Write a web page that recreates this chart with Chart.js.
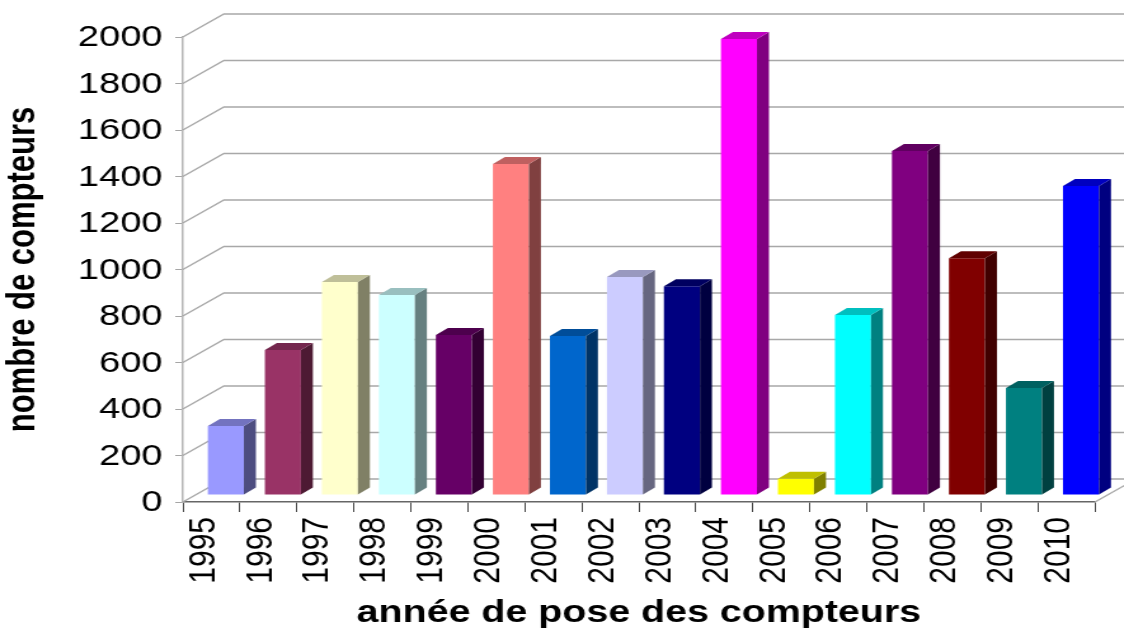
<!DOCTYPE html>
<html>
<head>
<meta charset="utf-8">
<style>
html, body { margin: 0; padding: 0; background: #fff; overflow: hidden; }
/* the reference is a 3D Excel chart stretched sideways, text included */
#wrap { width: 885px; height: 628px; transform: scale(1.27, 1); transform-origin: 0 0; }
</style>
<script src="https://cdn.jsdelivr.net/npm/chart.js@4"></script>
</head>
<body>
<div id="wrap"><canvas id="compteurs" width="885" height="628"></canvas></div>
<script>
const years = ['1995', '1996', '1997', '1998', '1999', '2000', '2001', '2002', '2003', '2004', '2005', '2006', '2007', '2008', '2009', '2010'];
const counts = [297, 624, 916, 860, 688, 1424, 684, 938, 898, 1961, 70, 774, 1480, 1018, 460, 1329];
const barColors = ['#9999FF', '#993366', '#FFFFCC', '#CCFFFF', '#660066', '#FF8080', '#0066CC', '#CCCCFF', '#000080', '#FF00FF', '#FFFF00', '#00FFFF', '#800080', '#800000', '#008080', '#0000FF'];

const wall = { dx: 32.3, dy: -23 };
const barShift = { dx: 11.4, dy: -7 };
const barDepth = { dx: 9.45, dy: -7 };

function shade(hex, f) {
    const n = parseInt(hex.slice(1), 16);
    return `rgb(${(n >> 16) * f}, ${((n >> 8) & 255) * f}, ${(n & 255) * f})`;
}

const box3d = {
    id: 'box3d',
    beforeDatasetsDraw(chart) {
        const ctx = chart.ctx;
        const { left, right, bottom } = chart.chartArea;
        ctx.save();
        ctx.strokeStyle = '#a8a8a8';
        ctx.lineWidth = 1.4;
        chart.scales.y.ticks.forEach(t => {
            const y = chart.scales.y.getPixelForValue(t.value);
            ctx.beginPath();
            ctx.moveTo(left, y);
            ctx.lineTo(left + wall.dx, y + wall.dy);
            ctx.lineTo(right + wall.dx, y + wall.dy);
            ctx.stroke();
        });
        ctx.beginPath();
        ctx.moveTo(right, bottom);
        ctx.lineTo(right + wall.dx, bottom + wall.dy);
        ctx.stroke();
        ctx.restore();
    },
    beforeDatasetDraw(chart) {
        chart.ctx.save();
        chart.ctx.translate(barShift.dx, barShift.dy);
    },
    afterDatasetDraw(chart, args) {
        const ctx = chart.ctx;
        args.meta.data.forEach((bar, i) => {
            const p = bar.getProps(['x', 'y', 'base', 'width']);
            const r = p.x + p.width / 2;
            const l = p.x - p.width / 2;
            ctx.fillStyle = shade(barColors[i], 0.5);
            ctx.beginPath();
            ctx.moveTo(r, p.y);
            ctx.lineTo(r + barDepth.dx, p.y + barDepth.dy);
            ctx.lineTo(r + barDepth.dx, p.base + barDepth.dy);
            ctx.lineTo(r, p.base);
            ctx.closePath();
            ctx.fill();
            ctx.fillStyle = shade(barColors[i], 0.75);
            ctx.beginPath();
            ctx.moveTo(l, p.y);
            ctx.lineTo(l + barDepth.dx, p.y + barDepth.dy);
            ctx.lineTo(r + barDepth.dx, p.y + barDepth.dy);
            ctx.lineTo(r, p.y);
            ctx.closePath();
            ctx.fill();
        });
        ctx.restore();
    }
};

new Chart(document.getElementById('compteurs'), {
    type: 'bar',
    data: {
        labels: years,
        datasets: [{
            data: counts,
            backgroundColor: barColors,
            borderWidth: 0,
            categoryPercentage: 1,
            barPercentage: 0.632
        }]
    },
    options: {
        responsive: false,
        animation: false,
        layout: { padding: { top: 37, right: 22.8, left: 0, bottom: 0 } },
        plugins: { legend: { display: false }, tooltip: { enabled: false } },
        scales: {
            x: {
                border: { color: '#666666', width: 1.5 },
                grid: { drawOnChartArea: false, color: '#444444', tickLength: 10 },
                ticks: {
                    color: '#000',
                    font: { family: "'Liberation Sans'", size: 30 },
                    minRotation: 90,
                    maxRotation: 90,
                    autoSkip: false,
                    padding: 5,
                    labelOffset: -6
                },
                title: {
                    display: true,
                    text: 'année de pose des compteurs',
                    color: '#000',
                    font: { family: "'Liberation Sans'", size: 31, weight: 'bold' },
                    padding: { top: 0, bottom: -4 }
                },
                afterFit(scale) { scale.height = 126; }
            },
            y: {
                min: 0,
                max: 2000,
                border: { color: '#b4b4b4', width: 1.5 },
                grid: { drawOnChartArea: false, color: '#a6a6a6', tickLength: 6 },
                ticks: {
                    stepSize: 200,
                    color: '#000',
                    font: { family: "'Liberation Sans'", size: 30 },
                    padding: 10,
                    labelOffset: 1,
                    callback: value => String(value)
                },
                title: {
                    display: true,
                    text: 'nombre de compteurs',
                    color: '#000',
                    font: { family: "'Liberation Sans'", size: 31, weight: 'bold' },
                    padding: { top: 0, bottom: 0 }
                },
                afterFit(scale) { scale.width = 144; }
            }
        }
    },
    plugins: [box3d]
});
</script>
</body>
</html>
